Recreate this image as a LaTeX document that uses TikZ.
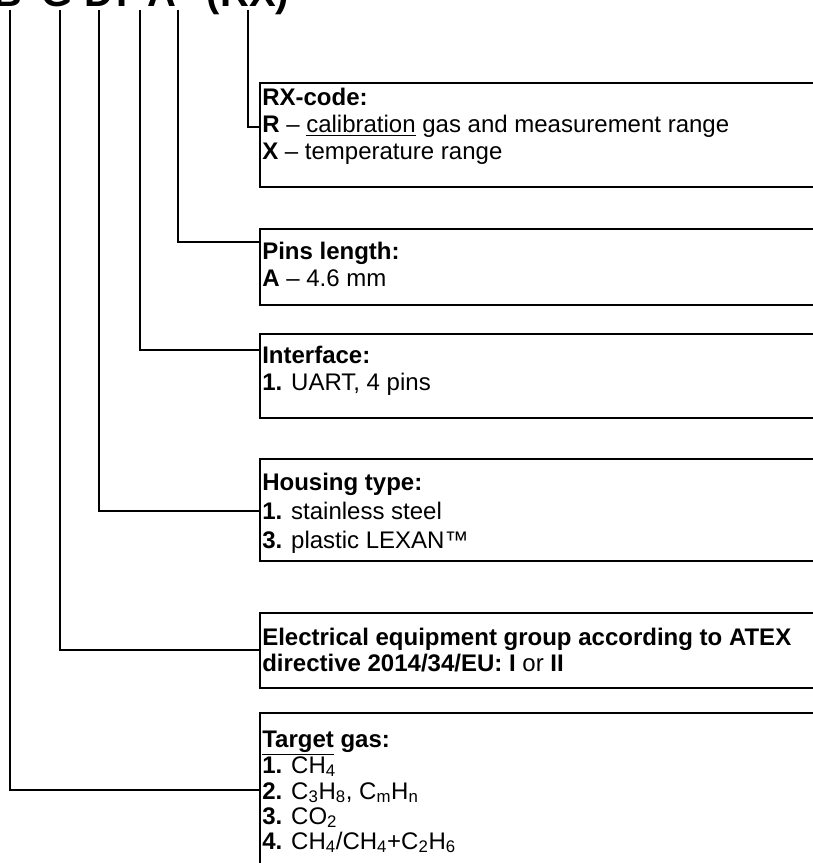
\documentclass[tikz,border=0pt]{standalone}
\usepackage{fontspec}
\setmainfont{Liberation Sans}
\begin{document}
\begin{tikzpicture}[x=0.75pt,y=-0.75pt,
  box/.style={draw=black,line width=1.4pt,anchor=north west,inner sep=0pt,minimum width=450pt},
  txt/.style={anchor=base west,inner sep=0pt,font=\fontsize{18}{21}\selectfont},
  con/.style={line width=1.4pt},
  ttl/.style={anchor=base,inner sep=0pt,font=\fontsize{30}{36}\selectfont\bfseries}]
\useasboundingbox (0,0) rectangle (813,863);
% title (cut off at the top)
\node[ttl] (t1) at (8,7) {B};
\node[ttl] (t2) at (57,7) {G};
\node[ttl] (t3) at (99,7) {D};
\node[ttl] (t4) at (122,7) {I};
\node[ttl] (t5) at (162,7) {A};
\node[ttl] (t6) at (248,7) {(RX)};
% boxes
\node[box,minimum height=78pt] (rx) at (259,82) {};
\node[box,minimum height=57pt] (pins) at (259,228) {};
\node[box,minimum height=63pt] (intf) at (259,333) {};
\node[box,minimum height=76.5pt] (hous) at (259,458) {};
\node[box,minimum height=56pt] (elec) at (259,612) {};
\node[box,minimum height=150pt] (targ) at (259,712) {};
% texts
\node[txt] (rx1) at (262,106) {\textbf{RX-code:}};
\node[txt] (rx2) at (262,133) {\textbf{R} -- \underline{calibration} gas and measurement range};
\node[txt] (rx3) at (262,160) {\textbf{X} -- temperature range};
\node[txt] (p1) at (262,259) {\textbf{Pins length:}};
\node[txt] (p2) at (262,286) {\textbf{A} -- 4.6 mm};
\node[txt] (i1) at (262,363) {\textbf{Interface:}};
\node[txt] (i2) at (262,390) {\textbf{1.} UART, 4 pins};
\node[txt] (h1) at (262,490) {\textbf{Housing type:}};
\node[txt] (h2) at (262,519) {\textbf{1.} stainless steel};
\node[txt] (h3) at (262,548) {\textbf{3.} plastic LEXAN™};
\node[txt] (e1) at (262,645) {\textbf{Electrical equipment group according to ATEX}};
\node[txt] (e2) at (262,671) {\textbf{directive 2014/34/EU: I} or \textbf{II}};
\node[txt] (g1) at (262,747) {\textbf{\underline{Target} gas:}};
\node[txt] (g2) at (262,773) {\textbf{1.} CH\textsubscript{4}};
\node[txt] (g3) at (262,799) {\textbf{2.} C\textsubscript{3}H\textsubscript{8}, C\textsubscript{m}H\textsubscript{n}};
\node[txt] (g4) at (262,824) {\textbf{3.} CO\textsubscript{2}};
\node[txt] (g5) at (262,849) {\textbf{4.} CH\textsubscript{4}/CH\textsubscript{4}+C\textsubscript{2}H\textsubscript{6}};
% connector start points
\coordinate (s1) at (10,10);
\coordinate (s2) at (60,10);
\coordinate (s3) at (99,10);
\coordinate (s4) at (140,10);
\coordinate (s5) at (178,10);
\coordinate (s6) at (248,10);
% entry points
\coordinate (n6) at (259,127);
\coordinate (n5) at (259,242);
\coordinate (n4) at (259,350);
\coordinate (n3) at (259,511);
\coordinate (n2) at (259,650);
\coordinate (n1) at (259,790);
\draw[con] (s6) |- (n6);
\draw[con] (s5) |- (n5);
\draw[con] (s4) |- (n4);
\draw[con] (s3) |- (n3);
\draw[con] (s2) |- (n2);
\draw[con] (s1) |- (n1);
\end{tikzpicture}
\end{document}
